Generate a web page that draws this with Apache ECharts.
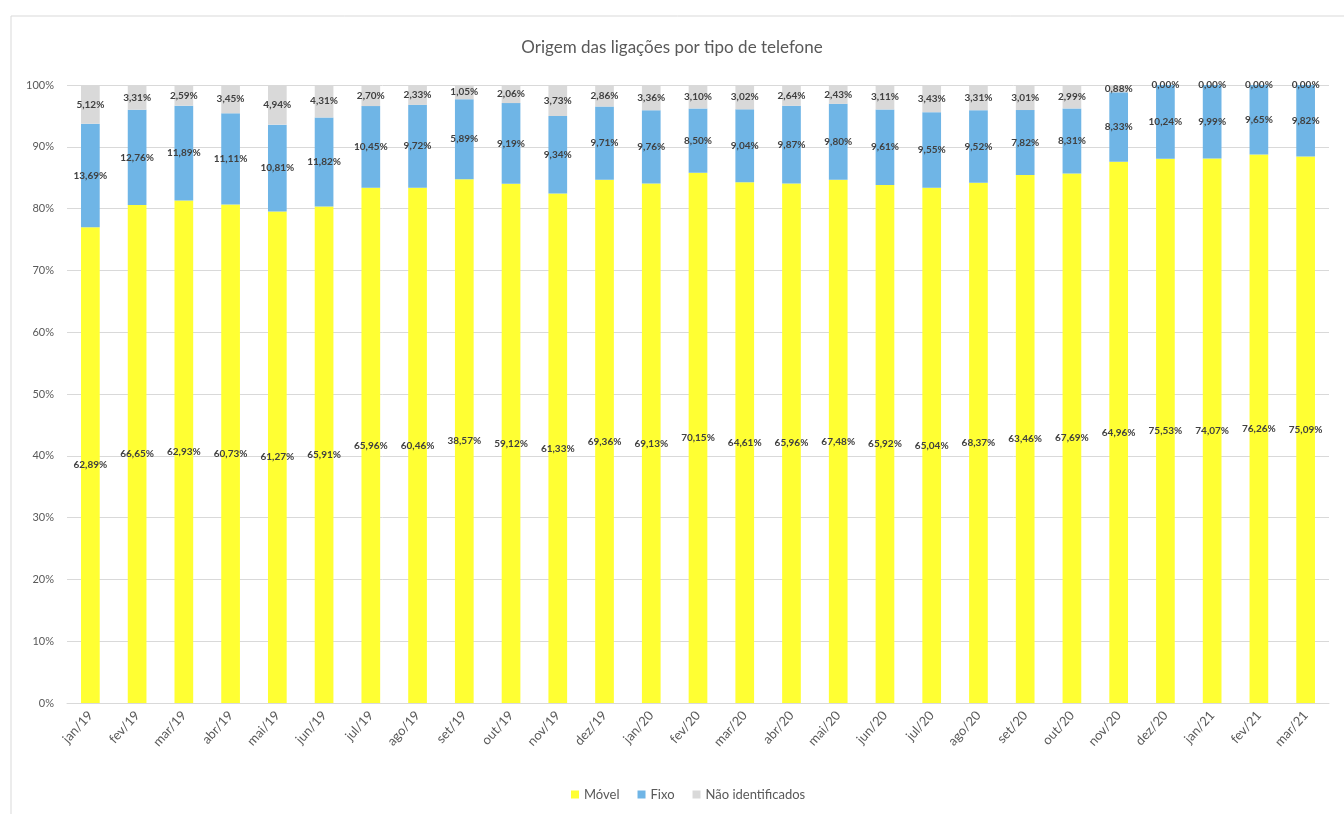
<!DOCTYPE html>
<html><head><meta charset="utf-8">
<script src="https://cdn.jsdelivr.net/npm/echarts@6/dist/echarts.min.js"></script>
<style>html,body{margin:0;padding:0;background:#fff}#c{width:1344px;height:814px}</style>
</head><body><div id="c"></div>
<script>
const categories = ['jan/19','fev/19','mar/19','abr/19','mai/19','jun/19','jul/19','ago/19','set/19','out/19','nov/19','dez/19','jan/20','fev/20','mar/20','abr/20','mai/20','jun/20','jul/20','ago/20','set/20','out/20','nov/20','dez/20','jan/21','fev/21','mar/21'];
const movel = [62.89,66.65,62.93,60.73,61.27,65.91,65.96,60.46,38.57,59.12,61.33,69.36,69.13,70.15,64.61,65.96,67.48,65.92,65.04,68.37,63.46,67.69,64.96,75.53,74.07,76.26,75.09];
const fixo = [13.69,12.76,11.89,11.11,10.81,11.82,10.45,9.72,5.89,9.19,9.34,9.71,9.76,8.50,9.04,9.87,9.80,9.61,9.55,9.52,7.82,8.31,8.33,10.24,9.99,9.65,9.82];
const naoIdent = [5.12,3.31,2.59,3.45,4.94,4.31,2.70,2.33,1.05,2.06,3.73,2.86,3.36,3.10,3.02,2.64,2.43,3.11,3.43,3.31,3.01,2.99,0.88,0.00,0.00,0.00,0.00];
const yTicks = [0,10,20,30,40,50,60,70,80,90,100];

const totals = categories.map((_, i) => movel[i] + fixo[i] + naoIdent[i]);
const norm = arr => arr.map((v, i) => ({ value: v / totals[i] * 100, raw: v }));
const fmt = p => p.data.raw.toFixed(2).replace('.', ',') + '%';
const FONT = 'Lato, "Open Sans", sans-serif';
const lbl = { show: true, position: 'inside', formatter: fmt, color: '#404040', fontSize: 10, fontWeight: 'bold', fontFamily: FONT };

const names = ['Móvel', 'Fixo', 'Não identificados'];
const colors = ['#ffff33', '#6fb5e6', '#d9d9d9'];
const datas = [movel, fixo, naoIdent];

const chart = echarts.init(document.getElementById('c'));
chart.setOption({
  animation: false,
  backgroundColor: '#fff',
  title: { text: 'Origem das ligações por tipo de telefone', left: 'center', top: 34, textStyle: { color: '#595959', fontSize: 17, fontWeight: 'normal', fontFamily: FONT } },
  legend: { bottom: 8, left: 566, itemWidth: 8, itemHeight: 8, itemGap: 18, icon: 'rect', textStyle: { color: '#595959', fontSize: 13, fontFamily: FONT }, data: names },
  grid: { left: 67, right: 15, top: 85, bottom: 111, containLabel: false },
  xAxis: {
    type: 'category', data: categories,
    axisLine: { lineStyle: { color: '#d9d9d9' } }, axisTick: { show: false },
    axisLabel: { rotate: 48, color: '#595959', fontSize: 13, fontFamily: FONT, interval: 0, margin: 10 }
  },
  yAxis: {
    type: 'value', min: 0, max: 100, interval: 10,
    axisLine: { show: false }, axisTick: { show: false },
    splitLine: { lineStyle: { color: '#d9d9d9' } },
    axisLabel: { color: '#595959', fontSize: 11, fontFamily: FONT, margin: 13, formatter: v => yTicks.includes(v) ? v + '%' : '' }
  },
  graphic: [
    { type: 'line', shape: { x1: 11, y1: 16, x2: 1344, y2: 16 }, style: { stroke: '#d9d9d9', lineWidth: 1 } },
    { type: 'line', shape: { x1: 11, y1: 16, x2: 11, y2: 814 }, style: { stroke: '#d9d9d9', lineWidth: 1 } }
  ],
  series: names.map((n, k) => ({
    name: n, type: 'bar', stack: 'total', barWidth: '40%', clip: false,
    itemStyle: { color: colors[k] },
    label: lbl,
    data: norm(datas[k])
  }))
});
</script></body></html>
